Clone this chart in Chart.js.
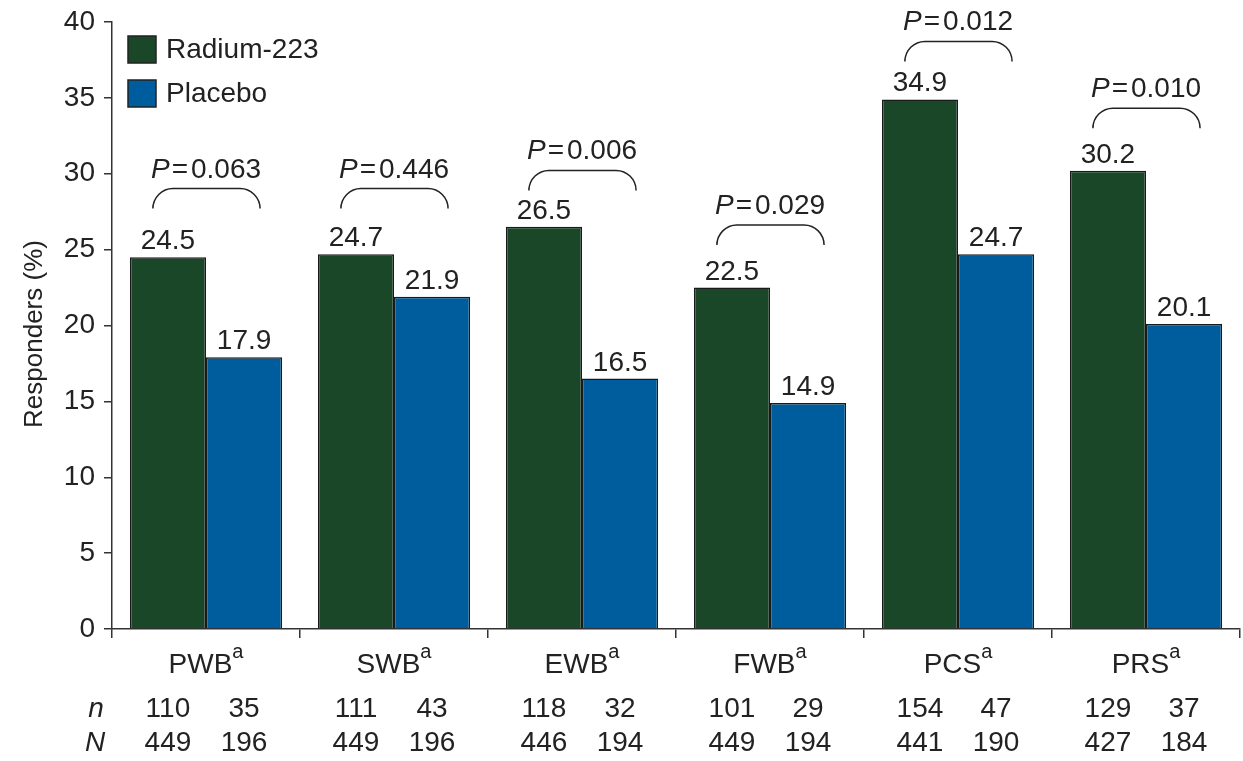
<!DOCTYPE html>
<html>
<head>
<meta charset="utf-8">
<script src="https://cdn.jsdelivr.net/npm/chart.js@4"></script>
<style>
  html, body { margin: 0; padding: 0; background: #fff; }
  #chart { display: block; }
</style>
</head>
<body>
<canvas id="chart" width="1243" height="761"></canvas>
<script>
// Responders per domain
const domains = ["PWB", "SWB", "EWB", "FWB", "PCS", "PRS"];
const radium = [24.5, 24.7, 26.5, 22.5, 34.9, 30.2];
const placebo = [17.9, 21.9, 16.5, 14.9, 24.7, 20.1];
const pValues = ["0.063", "0.446", "0.006", "0.029", "0.012", "0.010"];
// bracket level for each comparison (in % units)
const bracketLevel = [27.9, 27.9, 29.1, 25.5, 37.6, 33.2];
const nRadium = [110, 111, 118, 101, 154, 129];
const nPlacebo = [35, 43, 32, 29, 47, 37];
const bigNRadium = [449, 449, 446, 449, 441, 427];
const bigNPlacebo = [196, 196, 194, 194, 190, 184];
const yTicks = [0, 5, 10, 15, 20, 25, 30, 35, 40];

const GREEN = "#1b4729";
const BLUE = "#005d9d";
const INK = "#222";
const FONT = "'Liberation Sans', Arial, Helvetica, sans-serif";

function font(size, italic) {
  return (italic ? "italic " : "") + size + "px " + FONT;
}

const annotations = {
  id: "annotations",
  afterDatasetsDraw(chart) {
    const ctx = chart.ctx;
    const y = chart.scales.y;
    const area = chart.chartArea;
    const gMeta = chart.getDatasetMeta(0);
    const bMeta = chart.getDatasetMeta(1);
    ctx.save();
    ctx.fillStyle = INK;
    ctx.strokeStyle = INK;

    domains.forEach((name, i) => {
      const g = gMeta.data[i], b = bMeta.data[i];
      const cx = (g.x + b.x) / 2;

      // value labels
      ctx.font = font(28);
      ctx.textAlign = "center";
      ctx.textBaseline = "alphabetic";
      ctx.fillText(radium[i].toFixed(1), g.x, g.y - 8);
      ctx.fillText(placebo[i].toFixed(1), b.x, b.y - 8);

      // bracket
      const yb = y.getPixelForValue(bracketLevel[i]);
      const yt = yb - 17;
      const x1 = g.x - 15, x2 = b.x + 16, r = 20;
      ctx.lineWidth = 1.5;
      ctx.beginPath();
      ctx.moveTo(x1, yb);
      ctx.arcTo(x1, yt, x1 + r, yt, r);
      ctx.lineTo(x2 - r, yt);
      ctx.arcTo(x2, yt, x2, yb, r);
      ctx.stroke();

      // P = value
      const py = yt - 11;
      ctx.textBaseline = "alphabetic";
      ctx.font = font(28, true);
      const wP = ctx.measureText("P").width;
      ctx.font = font(28);
      const wEq = ctx.measureText("=").width;
      const wV = ctx.measureText(pValues[i]).width;
      const total = wP + 2 + wEq + 3 + wV;
      let px = cx - total / 2;
      ctx.textAlign = "left";
      ctx.font = font(28, true);
      ctx.fillText("P", px, py);
      px += wP + 2;
      ctx.font = font(28);
      ctx.fillText("=", px, py);
      px += wEq + 3;
      ctx.fillText(pValues[i], px, py);

      // category label with superscript
      ctx.font = font(28);
      const wName = ctx.measureText(name).width;
      ctx.font = font(20);
      const wSup = ctx.measureText("a").width;
      const lx = cx - (wName + wSup) / 2;
      ctx.textBaseline = "alphabetic";
      ctx.font = font(28);
      ctx.fillText(name, lx, 673);
      ctx.font = font(20);
      ctx.fillText("a", lx + wName, 658);

      // n and N rows
      ctx.textAlign = "center";
      ctx.textBaseline = "middle";
      ctx.font = font(28);
      ctx.fillText(String(nRadium[i]), g.x, 709);
      ctx.fillText(String(nPlacebo[i]), b.x, 709);
      ctx.fillText(String(bigNRadium[i]), g.x, 743);
      ctx.fillText(String(bigNPlacebo[i]), b.x, 743);
    });

    // row headers
    ctx.font = font(28, true);
    ctx.textAlign = "center";
    ctx.textBaseline = "middle";
    ctx.fillText("n", 96, 709);
    ctx.fillText("N", 95, 743);

    // y axis title
    ctx.save();
    ctx.translate(35, 334);
    ctx.rotate(-Math.PI / 2);
    ctx.font = font(26);
    ctx.fillText("Responders (%)", 0, 0);
    ctx.restore();

    // legend
    const items = [["Radium-223", GREEN], ["Placebo", BLUE]];
    items.forEach(([label, color], k) => {
      const ly = area.top + 14 + k * 44;
      const lx = area.left + 16;
      ctx.fillStyle = color;
      ctx.fillRect(lx, ly, 28, 27);
      ctx.lineWidth = 1.5;
      ctx.strokeStyle = INK;
      ctx.strokeRect(lx, ly, 28, 27);
      ctx.fillStyle = INK;
      ctx.font = font(28);
      ctx.textAlign = "left";
      ctx.textBaseline = "middle";
      ctx.fillText(label, lx + 38, ly + 14);
    });

    ctx.restore();
  }
};

new Chart(document.getElementById("chart"), {
  type: "bar",
  data: {
    labels: domains,
    datasets: [
      {
        label: "Radium-223",
        data: radium,
        backgroundColor: GREEN,
        borderColor: "#1a1a1a",
        borderWidth: 1.5,
        barPercentage: 1.0,
        categoryPercentage: 0.81
      },
      {
        label: "Placebo",
        data: placebo,
        backgroundColor: BLUE,
        borderColor: "#1a1a1a",
        borderWidth: 1.5,
        barPercentage: 1.0,
        categoryPercentage: 0.81
      }
    ]
  },
  options: {
    responsive: false,
    animation: false,
    devicePixelRatio: 1,
    layout: { padding: { top: 22, right: 3, left: 0, bottom: 0 } },
    plugins: {
      legend: { display: false },
      tooltip: { enabled: false }
    },
    scales: {
      x: {
        offset: true,
        border: { color: "#333", width: 1.5 },
        grid: {
          offset: true,
          drawOnChartArea: false,
          drawTicks: true,
          tickLength: 9,
          color: "#333",
          lineWidth: 1.5
        },
        ticks: { callback: () => "", color: "rgba(0,0,0,0)" },
        afterFit(scale) { scale.height = 132; }
      },
      y: {
        min: 0,
        max: 40,
        border: { color: "#333", width: 1.5 },
        grid: {
          drawOnChartArea: false,
          drawTicks: true,
          tickLength: 8,
          color: "#333",
          lineWidth: 1.5
        },
        afterBuildTicks(scale) {
          scale.ticks = yTicks.map(v => ({ value: v }));
        },
        ticks: {
          color: INK,
          padding: 9,
          font: { family: FONT, size: 28 }
        },
        afterFit(scale) {
          scale.width = 112;
          scale.paddingTop = 0;
          scale.paddingBottom = 0;
        }
      }
    }
  },
  plugins: [annotations]
});
</script>
</body>
</html>
